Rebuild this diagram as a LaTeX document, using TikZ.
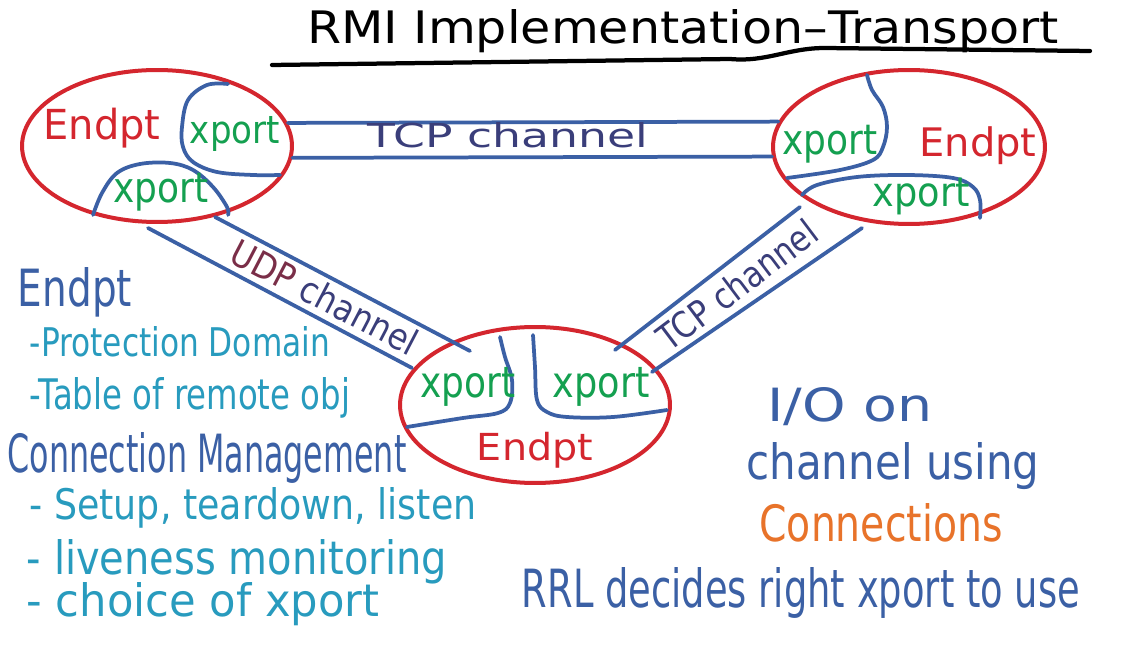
\documentclass[tikz,border=0pt]{standalone}
\usepackage{fontspec}
\setmainfont{DejaVu Sans}
\usetikzlibrary{shapes.geometric}
\newdimen\px \px=0.02cm
\newcommand\hw[3]{\resizebox*{#1\px}{#2\px}{#3}}
\newcommand\hb[3]{\resizebox{#1\px}{#2\px}{#3}}
\definecolor{redE}{RGB}{212,38,46}
\definecolor{blueL}{RGB}{59,96,165}
\definecolor{greenX}{RGB}{20,160,80}
\definecolor{navyT}{RGB}{58,62,122}
\definecolor{maroonU}{RGB}{122,46,72}
\definecolor{tealT}{RGB}{40,155,190}
\definecolor{orangeC}{RGB}{232,115,42}
\begin{document}
\begin{tikzpicture}[x=0.02cm,y=-0.02cm,
  endpt/.style={ellipse, draw=redE, line width=0.08cm, inner sep=0pt},
  wire/.style={draw=blueL, line width=0.075cm, line cap=round, line join=round},
  txt/.style={inner sep=0pt, outer sep=0pt},
  btxt/.style={inner sep=0pt, outer sep=0pt, anchor=base}]
\fill[white] (0,0) rectangle (1134,648);
\useasboundingbox (0,0) rectangle (1134,648);

% title
\node[btxt] (title) at (683,44) {\hb{752}{34}{RMI Implementation–Transport}};
\coordinate (u1) at (272,65);
\coordinate (u2) at (730,59);
\coordinate (u3) at (825,48);
\coordinate (u4) at (1090,51);
\draw[black, line width=0.085cm, line cap=round] (u1) -- (u2) to[out=-5,in=180] (u3) -- (u4);

% endpoints
\node[endpt, minimum width=5.4cm, minimum height=3.04cm] (L) at (157,146) {};
\node[endpt, minimum width=5.44cm, minimum height=3.08cm] (R) at (909,147) {};
\node[endpt, minimum width=5.4cm, minimum height=3.12cm] (B) at (535,405) {};

% xport boundaries
\draw[wire] plot[smooth, tension=0.6] coordinates {(228,84) (207,85) (188,100) (182,127) (183,147) (193,162) (217,172) (253,175) (280,175)};
\draw[wire] plot[smooth, tension=0.6] coordinates {(93,215) (102,193) (117,173) (140,164) (170,163) (193,170) (213,187) (227,207) (228,215)};
\draw[wire] plot[smooth, tension=0.6] coordinates {(867,75) (872,90) (883,107) (887,127) (883,147) (873,160) (840,170) (787,178)};
\draw[wire] plot[smooth, tension=0.6] coordinates {(802,195) (817,185) (857,177) (907,175) (953,178) (973,187) (980,200) (980,218)};
\draw[wire] plot[smooth, tension=0.6] coordinates {(500,337) (505,357) (512,380) (510,403) (498,413) (463,418) (407,427)};
\draw[wire] plot[smooth, tension=0.6] coordinates {(533,335) (535,367) (537,400) (547,412) (567,417) (613,417) (667,410)};

% channels
\draw[wire] (L.10) -- (R.169);
\draw[wire] (L.-5) -- (R.184);
\coordinate (ud1) at (215,217);
\coordinate (ud2) at (470,351);
\coordinate (ud3) at (148,228);
\coordinate (ud4) at (412,368);
\draw[wire] (ud1) -- (ud2);
\draw[wire] (ud3) -- (ud4);
\coordinate (tc1) at (615,350);
\coordinate (tc2) at (800,207);
\coordinate (tc3) at (652,372);
\coordinate (tc4) at (862,228);
\draw[wire] (tc1) -- (tc2);
\draw[wire] (tc3) -- (tc4);

% channel labels
\node[btxt, text=navyT] (tcpTop) at (508,148) {\hb{280}{25}{TCP channel}};
\node[txt, rotate=-27.5] (udpL) at (325,297) {\hw{205}{28}{\color{maroonU}UDP \color{navyT}channel}};
\node[txt, text=navyT, rotate=37] (tcpR) at (737,285) {\hw{190}{28}{TCP channel}};

% labels inside endpoints
\node[txt, text=redE] (Le) at (102,128) {\hw{117}{40}{Endpt}};
\node[txt, text=greenX] (Lx1) at (235,134) {\hw{90}{35}{xport}};
\node[txt, text=greenX] (Lx2) at (161,192) {\hw{95}{38}{xport}};
\node[txt, text=greenX] (Rx1) at (830,144) {\hw{95}{38}{xport}};
\node[txt, text=redE] (Re) at (978,146) {\hw{117}{38}{Endpt}};
\node[txt, text=greenX] (Rx2) at (921,196) {\hw{97}{37}{xport}};
\node[txt, text=greenX] (Bx1) at (468,387) {\hw{95}{39}{xport}};
\node[txt, text=greenX] (Bx2) at (601,387) {\hw{97}{39}{xport}};
\node[txt, text=redE] (Be) at (535,450) {\hw{116}{36}{Endpt}};

% left notes
\node[btxt, text=blueL] (n1) at (75,307) {\hb{114}{39}{Endpt}};
\node[btxt, text=tealT] (n2) at (180,357) {\hb{300}{30}{-Protection Domain}};
\node[btxt, text=tealT] (n3) at (190,410) {\hb{320}{32}{-Table of remote obj}};
\node[btxt, text=blueL] (n4) at (207,473) {\hb{399}{40}{Connection Management}};
\node[btxt, text=tealT] (n5) at (253,520) {\hb{447}{32}{- Setup, teardown, listen}};
\node[btxt, text=tealT] (n6) at (237,575) {\hb{420}{35}{- liveness monitoring}};
\node[btxt, text=tealT] (n7) at (203,617) {\hb{353}{34}{- choice of xport}};

% right notes
\node[btxt, text=blueL] (m1) at (850,422) {\hb{165}{34}{I/O on}};
\node[btxt, text=blueL] (m2) at (893,480) {\hb{293}{37}{channel using}};
\node[btxt, text=orangeC] (m3) at (881,542) {\hb{243}{38}{Connections}};
\node[btxt, text=blueL] (m4) at (801,608) {\hb{558}{40}{RRL decides right xport to use}};
\end{tikzpicture}
\end{document}
